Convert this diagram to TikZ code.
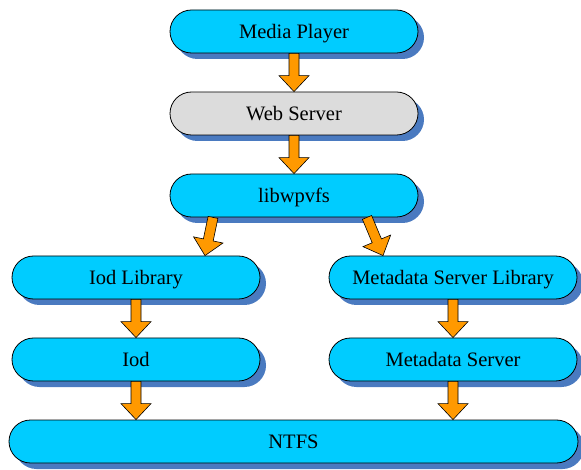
\documentclass[tikz,border=0pt]{standalone}
\usepackage{fontspec}
\setmainfont{Liberation Serif}
\usetikzlibrary{shapes.misc,shadows,calc}
\definecolor{boxcyan}{HTML}{00CCFF}
\definecolor{boxgray}{HTML}{DCDCDC}
\definecolor{arroworange}{HTML}{FF9900}
\definecolor{shadowblue}{HTML}{4A7AC0}
\begin{document}
\begin{tikzpicture}[x=1pt,y=-1pt,
  layer/.style={rounded rectangle, draw=black, line width=0.8pt, fill=boxcyan,
    minimum width=248pt, minimum height=43pt, inner sep=0pt,
    text height=13.6pt, text depth=0pt,
    font=\fontsize{20.5}{24}\selectfont,
    drop shadow={shadow xshift=6pt, shadow yshift=-6pt, fill=shadowblue, opacity=1}},
  grayfill/.style={fill=boxgray},
  fatarrow/.style={fill=arroworange, draw=black, line width=0.6pt, line join=miter,
    to path={($(\tikztostart)!5pt!90:(\tikztotarget)$)
      -- ($(\tikztotarget)!16pt!(\tikztostart)!5pt!90:(\tikztotarget)$)
      -- ($(\tikztotarget)!16pt!(\tikztostart)!15pt!90:(\tikztotarget)$)
      -- (\tikztotarget)
      -- ($(\tikztotarget)!16pt!(\tikztostart)!15pt!-90:(\tikztotarget)$)
      -- ($(\tikztotarget)!16pt!(\tikztostart)!5pt!-90:(\tikztotarget)$)
      -- ($(\tikztostart)!5pt!-90:(\tikztotarget)$) -- cycle}}]
\useasboundingbox (0,0) rectangle (581,470);
\node[layer] (mp) at (294,31.5) {Media Player};
\node[layer,grayfill] (ws) at (294,113.5) {Web Server};
\node[layer] (lib) at (294,195.5) {libwpvfs};
\node[layer] (iodl) at (136,277.5) {Iod Library};
\node[layer] (msl) at (453,277.5) {Metadata Server Library};
\node[layer] (iod) at (136,359.5) {Iod};
\node[layer] (ms) at (453,359.5) {Metadata Server};
\node[layer, minimum width=569pt] (ntfs) at (293.5,441.5) {NTFS};
\coordinate (la) at ($(lib.south)+(-81,0)$);
\coordinate (lb) at ($(iodl.north)+(69,0)$);
\coordinate (ra) at ($(lib.south)+(73,0)$);
\coordinate (rb) at ($(msl.north)+(-70,0)$);
\draw[fatarrow] (mp.south) to (ws.north);
\draw[fatarrow] (ws.south) to (lib.north);
\draw[fatarrow] (la) to (lb);
\draw[fatarrow] (ra) to (rb);
\draw[fatarrow] (iodl.south) to (iod.north);
\draw[fatarrow] (msl.south) to (ms.north);
\draw[fatarrow] (iod.south) to (iod.south |- ntfs.north);
\draw[fatarrow] (ms.south) to (ms.south |- ntfs.north);
\end{tikzpicture}
\end{document}
